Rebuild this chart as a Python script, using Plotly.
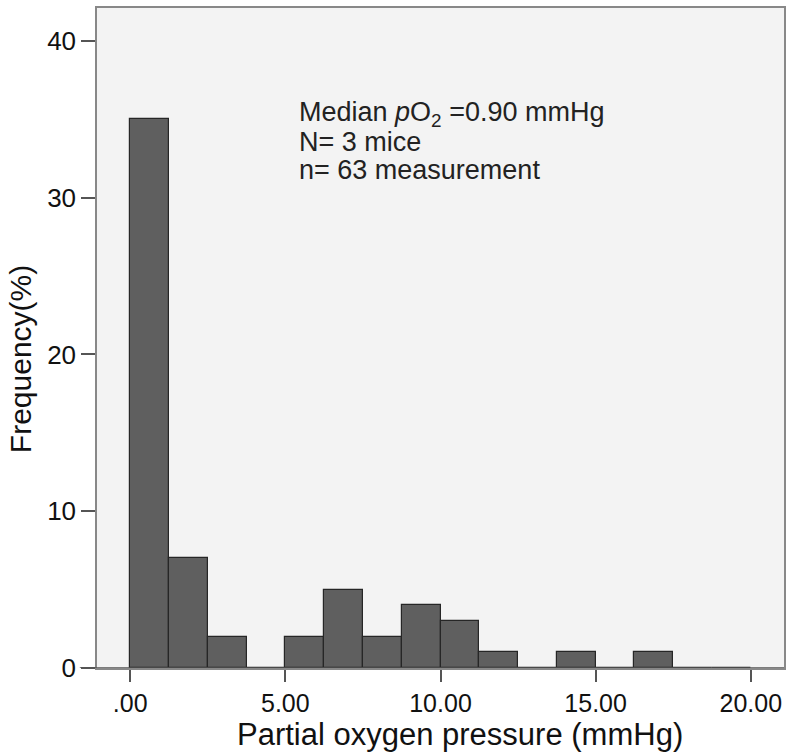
import plotly.graph_objects as go

# histogram bins (mmHg) and counts
bin_start = 0.0
bin_width = 1.25
counts = [35, 7, 2, 0, 2, 5, 2, 4, 3, 1, 0, 1, 0, 1, 0, 0]
centers = [bin_start + bin_width * (i + 0.5) for i in range(len(counts))]

tick_vals = [0, 5, 10, 15, 20]
tick_text = [".00", "5.00", "10.00", "15.00", "20.00"]
y_ticks = [0, 10, 20, 30, 40]

info_lines = ["Median <i>p</i>O<sub>2</sub> =0.90 mmHg", "N= 3 mice", "n= 63 measurement"]

FONT = "Liberation Sans, Arial, sans-serif"

fig = go.Figure(go.Bar(
    x=centers, y=counts, width=bin_width,
    marker=dict(color="#5f5f5f", line=dict(color="#262626", width=1.2)),
))

# info text, one annotation per line to keep the tight spacing
for i, line in enumerate(info_lines):
    fig.add_annotation(
        x=0.291, y=0.840 - 0.0425 * i, xref="paper", yref="paper",
        xanchor="left", yanchor="middle", showarrow=False, text=line,
        font=dict(family=FONT, size=27, color="#222"),
    )

# axis titles as annotations (they sit a bit off-centre in the original)
fig.add_annotation(x=0.529, y=-0.1015, xref="paper", yref="paper",
                   xanchor="center", yanchor="middle", showarrow=False,
                   text="Partial oxygen pressure (mmHg)",
                   font=dict(family=FONT, size=31, color="#111"))
fig.add_annotation(x=-0.112, y=0.468, xref="paper", yref="paper",
                   xanchor="center", yanchor="middle", showarrow=False, textangle=-90,
                   text="Frequency(%)",
                   font=dict(family=FONT, size=30, color="#111"))

# x axis line extends a little past the frame on the left
fig.add_shape(type="line", xref="paper", yref="y", x0=-0.025, x1=1, y0=0, y1=0,
              line=dict(color="#555", width=1.5))

fig.update_layout(
    width=792, height=753,
    margin=dict(l=97, r=7, t=6, b=85),
    paper_bgcolor="white", plot_bgcolor="#f3f3f3",
    showlegend=False, bargap=0,
    font=dict(family=FONT, color="#111"),
    xaxis=dict(range=[-1.07, 21.07], tickvals=tick_vals, ticktext=tick_text,
               ticks="outside", ticklen=12, tickwidth=1.5, tickcolor="#555",
               showgrid=False, zeroline=False, showline=True, linecolor="#888",
               linewidth=1.5, mirror=True, tickfont=dict(size=25)),
    yaxis=dict(range=[0, 42.1], tickvals=y_ticks,
               ticks="outside", ticklen=14, tickwidth=1.5, tickcolor="#555",
               showgrid=False, zeroline=False, showline=True, linecolor="#888",
               linewidth=1.5, mirror=True, tickfont=dict(size=26)),
)

fig.write_html("out.html", config={"displayModeBar": False},
               post_script="document.body.style.margin='0';")
